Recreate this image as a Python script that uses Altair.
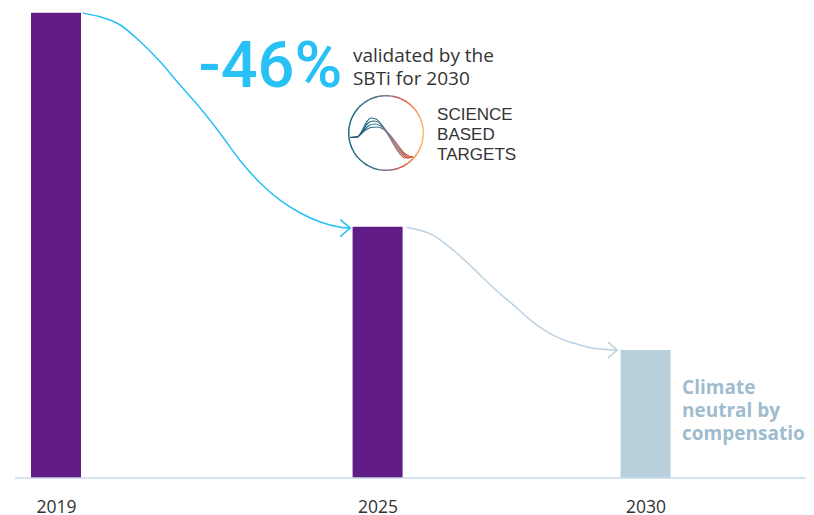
import altair as alt
import pandas as pd
import numpy as np

# ---------------- data ----------------
years = [2019, 2025, 2030]
emissions = [100, 54, 27.5]
kind = ["reduction", "reduction", "compensation"]
tick_years = [2019, 2025, 2030]

# arrow curves (year, value)
cyan_x = [2019.50, 2019.82, 2020.19, 2020.57, 2020.94, 2021.31, 2021.69, 2022.06,
          2022.43, 2022.81, 2023.18, 2023.55, 2023.93, 2024.30, 2024.49]
cyan_y = [99.9, 99.1, 97.4, 93.8, 89.5, 84.5, 79.5, 74.1, 68.3, 63.4, 59.7, 57.0,
          55.0, 53.9, 53.7]
gray_x = [2025.54, 2026.03, 2026.41, 2026.78, 2027.15, 2027.53, 2027.90, 2028.27,
          2028.65, 2029.02, 2029.47]
gray_y = [53.9, 52.2, 49.0, 45.1, 41.0, 37.2, 33.5, 30.7, 29.0, 27.9, 27.5]

# logo curve offsets (px relative to logo centre, y downwards)
logo_dx = {
    "c1": [-36, -29, -24, -20, -15, -10, -5, 1, 8, 14, 19, 27],
    "c2": [-36, -29, -23, -19, -13, -8, -2, 4, 11, 17, 22, 27],
    "c3": [-36, -29, -22, -17, -11, -6, 1, 7, 14, 20, 24, 27],
    "c4": [-36, -29, -21, -15, -9, -3, 4, 11, 17, 23, 25, 27],
}
logo_dy = {
    "c1": [4.5, 4, -2, -10, -15, -14, -9, 0, 12, 21, 25, 23.5],
    "c2": [4.5, 4, -3, -9, -12, -11, -5, 4, 15, 22, 25, 23.5],
    "c3": [4.5, 4, -3, -7.5, -9, -7.5, -1, 7, 17, 23, 24.5, 23.5],
    "c4": [4.5, 4, -2.5, -5.5, -6, -4, 2, 11, 19, 23, 24, 23.5],
}

# ---------------- layout ----------------
W, H = 798, 470
PX_YEAR = 53.6
X_DOMAIN = [2019 - 48 / PX_YEAR, 2019 + (W - 48) / PX_YEAR]
Y_DOMAIN = [0, 101]
PX_UNIT = H / (Y_DOMAIN[1] - Y_DOMAIN[0])

PURPLE = "#621c85"
LIGHT = "#b8cfdc"
CYAN = "#27c1f6"
GRAYCURVE = "#bcd1e1"
TEXT = "#333333"

XAXIS = alt.Axis(values=tick_years, format="d", domain=False, ticks=False,
                 tickSize=0, grid=False, labelFontSize=17.5,
                 labelFont="Open Sans", labelColor=TEXT, labelPadding=34,
                 labelBaseline="alphabetic", title=None)


def X(field, **kw):
    return alt.X(field, type="quantitative", axis=XAXIS,
                 scale=alt.Scale(domain=X_DOMAIN, nice=False, zero=False, padding=0), **kw)


def Y(field, **kw):
    return alt.Y(field, type="quantitative", axis=None,
                 scale=alt.Scale(domain=Y_DOMAIN, nice=False, zero=False, padding=0), **kw)


bars_df = pd.DataFrame({"year": years, "value": emissions, "kind": kind})

bars = alt.Chart(bars_df).mark_bar(size=50).encode(
    x=X("year"),
    y=Y("value"),
    color=alt.Color("kind:N", scale=alt.Scale(domain=["reduction", "compensation"],
                                              range=[PURPLE, LIGHT]), legend=None),
)

base_rule = alt.Chart(pd.DataFrame({"x": [2018.235], "x2": [X_DOMAIN[1]], "y": [0]})).mark_rule(
    color="#c9d9e8", strokeWidth=1.5
).encode(x=X("x"), x2="x2", y=Y("y"))

cyan_line = alt.Chart(pd.DataFrame({"x": cyan_x, "y": cyan_y})).mark_line(
    color=CYAN, strokeWidth=1.5, interpolate="monotone"
).encode(x=X("x"), y=Y("y"))

gray_line = alt.Chart(pd.DataFrame({"x": gray_x, "y": gray_y})).mark_line(
    color=GRAYCURVE, strokeWidth=1.5, interpolate="monotone"
).encode(x=X("x"), y=Y("y"))

CHEVRON = "M-1,-0.85L0,0L-1,0.85"
cyan_head = alt.Chart(pd.DataFrame({"x": [cyan_x[-1]], "y": [cyan_y[-1]]})).mark_point(
    shape=CHEVRON, filled=False, size=400, color=CYAN, strokeWidth=1.5, opacity=1
).encode(x=X("x"), y=Y("y"))
gray_head = alt.Chart(pd.DataFrame({"x": [gray_x[-1]], "y": [gray_y[-1]]})).mark_point(
    shape=CHEVRON, filled=False, size=340, color=GRAYCURVE, strokeWidth=1.5, opacity=1
).encode(x=X("x"), y=Y("y"))

# ---------------- logo ----------------
LOGO_X, LOGO_Y = 2025.157, 74.14
n_seg = 72
t0 = np.arange(n_seg) * 2 * np.pi / n_seg
ring_df = pd.DataFrame({
    "x": LOGO_X, "y": LOGO_Y,
    "t0": t0, "t1": t0 + 2 * np.pi / n_seg + 0.02,
    "gx": np.sin(t0 + np.pi / n_seg),
})
ring = alt.Chart(ring_df).mark_arc(radius=38, radius2=36.6).encode(
    x=X("x"), y=Y("y"),
    theta=alt.Theta("t0:Q", scale=None, stack=False),
    theta2="t1:Q",
    color=alt.Color("gx:Q", scale=alt.Scale(
        domain=[-1, -0.3, 0.1, 0.45, 0.8, 1],
        range=["#1c6a86", "#3f6f86", "#93747f", "#d8523f", "#f29a57", "#fcbb6a"]),
        legend=None),
)

rows = []
for name in logo_dx:
    for dx, dy in zip(logo_dx[name], logo_dy[name]):
        rows.append({"c": name, "x": LOGO_X + dx / PX_YEAR, "y": LOGO_Y - dy / PX_UNIT})
logo_lines = alt.Chart(pd.DataFrame(rows)).mark_line(
    strokeWidth=1.2, interpolate="monotone",
    color=alt.Gradient(gradient="linear",
                       stops=[alt.GradientStop(color="#2a5568", offset=0),
                              alt.GradientStop(color="#1f7090", offset=0.35),
                              alt.GradientStop(color="#8d7a8c", offset=0.65),
                              alt.GradientStop(color="#e0552f", offset=1)],
                       x1=0, x2=1, y1=0, y2=0)
).encode(x=X("x"), y=Y("y"), detail="c:N")


# ---------------- texts ----------------
def text_layer(x, y, txt, **mk):
    return alt.Chart(pd.DataFrame({"x": [x], "y": [y], "t": [txt]})).mark_text(
        align="left", baseline="alphabetic", lineBreak="\n", **mk
    ).encode(x=X("x"), y=Y("y"), text="t:N")


t46 = text_layer(2021.66, 84.0, "-46%", font="Roboto", fontSize=65, fontWeight=500, color=CYAN)
tval = text_layer(2024.54, 89.46, "validated by the\nSBTi for 2030", font="Open Sans",
                  fontSize=19, color=TEXT, lineHeight=23.5)
tsbt = text_layer(2026.11, 76.93, "SCIENCE\nBASED\nTARGETS", font="Liberation Sans",
                  fontSize=17, color=TEXT, lineHeight=20)
tcli = text_layer(2030.68, 18.05, "Climate\nneutral by\ncompensation", font="Open Sans",
                  fontSize=19, fontWeight="bold", color="#9fbccf", lineHeight=23)

chart = alt.layer(
    bars, base_rule, cyan_line, gray_line, cyan_head, gray_head,
    ring, logo_lines, t46, tval, tsbt, tcli
).resolve_scale(color="independent").properties(
    width=W, height=H,
    autosize=alt.AutoSizeParams(type="none"),
    padding={"left": 0, "top": 0, "right": 0, "bottom": 38},
).configure_view(stroke=None)

chart.save("out.html", embed_options={"renderer": "svg", "actions": False})
